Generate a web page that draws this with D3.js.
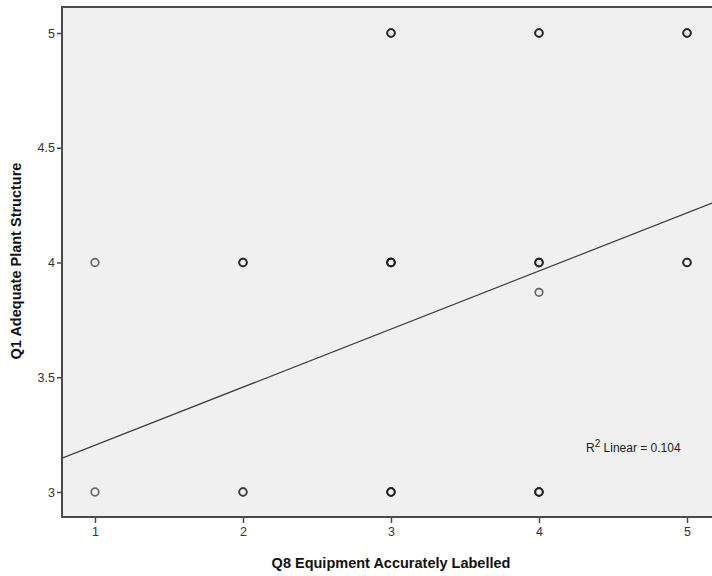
<!DOCTYPE html>
<html>
<head>
<meta charset="utf-8">
<script src="https://cdn.jsdelivr.net/npm/d3@7"></script>
<style>
  html, body { margin: 0; padding: 0; background: #ffffff; }
  svg { display: block; font-family: "Liberation Sans", Arial, sans-serif; }
</style>
</head>
<body>
<svg id="chart" width="712" height="576"></svg>
<script>
// Responses: Q8 (x) vs Q1 (y); n = number of respondents at each position
const pointX = [1, 1, 2, 2, 3, 3, 3, 4, 4, 4, 4, 5, 5];
const pointY = [4, 3, 4, 3, 5, 4, 3, 5, 4, 3.87, 3, 5, 4];
const pointN = [1, 1, 3, 2, 3, 5, 4, 3, 4, 1, 4, 3, 3];

// Linear fit line
const fitIntercept = 2.951;
const fitSlope = 0.253;
const rSquared = 0.104;

const xTicks = [1, 2, 3, 4, 5];
const yTicks = [3, 3.5, 4, 4.5, 5];

const xTitle = "Q8 Equipment Accurately Labelled";
const yTitle = "Q1 Adequate Plant Structure";

const svg = d3.select("#chart");

const frame = { left: 62, top: 7, right: 730, bottom: 517 };

const x = d3.scaleLinear().domain([1, 5]).range([95, 687]);
const y = d3.scaleLinear().domain([3, 5]).range([492, 33]);

// Plot background
svg.append("rect")
  .attr("x", frame.left).attr("y", frame.top)
  .attr("width", frame.right - frame.left)
  .attr("height", frame.bottom - frame.top)
  .attr("fill", "#f0f0f0");

// Fit line, clipped to the plot frame
svg.append("clipPath").attr("id", "plotClip")
  .append("rect")
  .attr("x", frame.left).attr("y", frame.top)
  .attr("width", frame.right - frame.left)
  .attr("height", frame.bottom - frame.top);

const x0 = x.invert(frame.left), x1 = x.invert(712);
svg.append("line")
  .attr("clip-path", "url(#plotClip)")
  .attr("x1", x(x0)).attr("y1", y(fitIntercept + fitSlope * x0))
  .attr("x2", x(x1)).attr("y2", y(fitIntercept + fitSlope * x1))
  .attr("stroke", "#3a3a3a")
  .attr("stroke-width", 1.2);

// Points: each respondent drawn as an open circle, overlaps darken
const obs = [];
pointX.forEach((px, i) => {
  for (let k = 0; k < pointN[i]; k++) obs.push({ x: px, y: pointY[i] });
});
svg.append("g")
  .selectAll("circle")
  .data(obs)
  .join("circle")
  .attr("cx", d => x(d.x))
  .attr("cy", d => y(d.y))
  .attr("r", 3.8)
  .attr("fill", "none")
  .attr("stroke", "#202020")
  .attr("stroke-opacity", 0.66)
  .attr("stroke-width", 1.7);

// Axes
const axisColor = "#4a4a4a";
const yAxis = svg.append("g")
  .attr("transform", `translate(${frame.left},0)`)
  .call(d3.axisLeft(y).tickValues(yTicks).tickSize(5).tickSizeOuter(0).tickFormat(d3.format("~g")));
const xAxis = svg.append("g")
  .attr("transform", `translate(0,${frame.bottom})`)
  .call(d3.axisBottom(x).tickValues(xTicks).tickSize(6).tickSizeOuter(0).tickFormat(d3.format("~g")));

[yAxis, xAxis].forEach(g => {
  g.select(".domain").remove();
  g.selectAll(".tick line").attr("stroke", axisColor).attr("stroke-width", 1.5);
  g.selectAll(".tick text")
    .attr("fill", "#333")
    .style("font-size", "12.5px")
    .style("font-family", "'Liberation Sans', Arial, sans-serif");
});
yAxis.selectAll(".tick text").attr("x", -7);
xAxis.selectAll(".tick text").attr("y", 10);

// Frame lines: left, bottom, top
svg.append("path")
  .attr("d", `M${frame.right},${frame.top}H${frame.left}V${frame.bottom}H${frame.right}`)
  .attr("fill", "none")
  .attr("stroke", axisColor)
  .attr("stroke-width", 2);

// Axis titles
svg.append("text")
  .attr("x", 391).attr("y", 568)
  .attr("text-anchor", "middle")
  .style("font-size", "14.5px").style("font-weight", "bold")
  .attr("fill", "#111")
  .text(xTitle);

svg.append("text")
  .attr("transform", "translate(21,261) rotate(-90)")
  .attr("text-anchor", "middle")
  .style("font-size", "14.5px").style("font-weight", "bold")
  .attr("fill", "#111")
  .text(yTitle);

// R-squared annotation
const r2 = svg.append("text")
  .attr("x", 586).attr("y", 452)
  .style("font-size", "12px")
  .attr("fill", "#222");
r2.append("tspan").text("R");
r2.append("tspan").attr("dy", -5).style("font-size", "10px").text("2");
r2.append("tspan").attr("dy", 5).text(" Linear = " + d3.format(".3f")(rSquared));
</script>
</body>
</html>
